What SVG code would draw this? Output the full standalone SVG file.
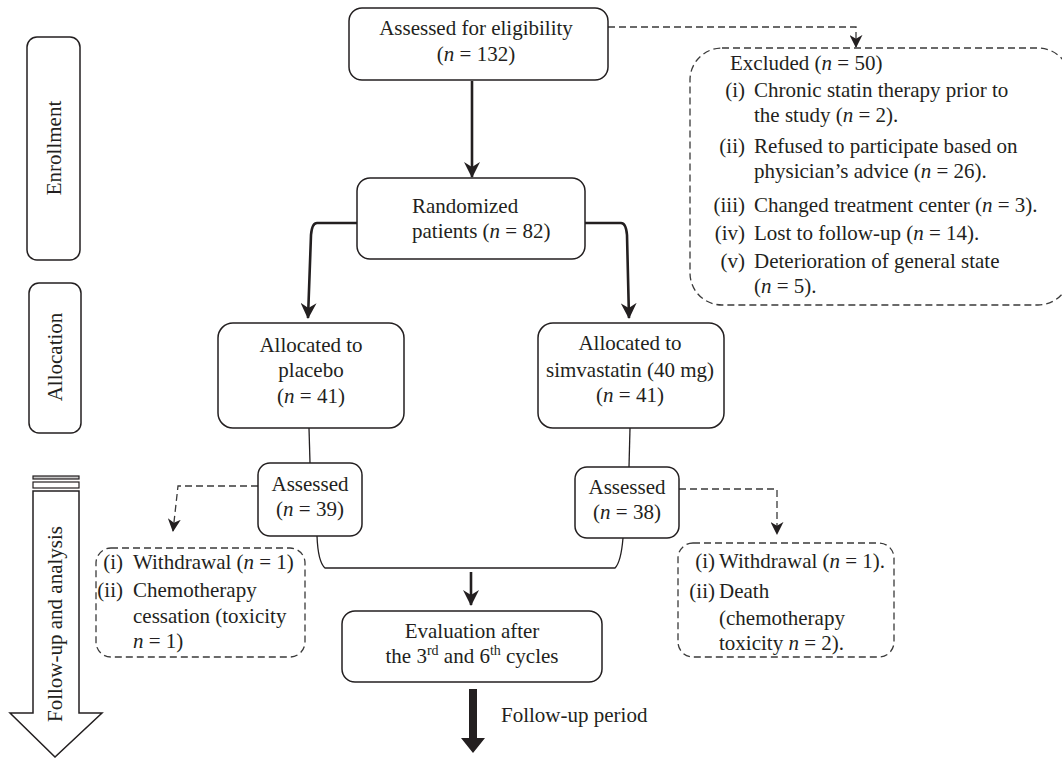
<svg xmlns="http://www.w3.org/2000/svg" width="1062" height="758" viewBox="0 0 1062 758">
<defs>
<marker id="ah" viewBox="0 0 16 16" refX="15" refY="8" markerWidth="16" markerHeight="16" markerUnits="userSpaceOnUse" orient="auto">
<path d="M0,0 L16,8 L0,16 L5,8 z" fill="#231f20"/>
</marker>
<marker id="ahs" viewBox="0 0 14 14" refX="13" refY="7" markerWidth="13" markerHeight="13" markerUnits="userSpaceOnUse" orient="auto">
<path d="M0,0 L14,7 L0,14 L4,7 z" fill="#231f20"/>
</marker>
</defs>
<style>
text{font-family:"Liberation Serif","Times New Roman",serif;font-size:21px;fill:#231f20}
.c{text-anchor:middle}
.e{text-anchor:end}
.i{font-style:italic}
.box{fill:#fff;stroke:#231f20;stroke-width:1.5}
.dbox{fill:none;stroke:#3a3a3a;stroke-width:1.3;stroke-dasharray:7 4}
.thick{fill:none;stroke:#231f20;stroke-width:2.6}
.thin{fill:none;stroke:#231f20;stroke-width:1.3}
.dash{fill:none;stroke:#3a3a3a;stroke-width:1.3;stroke-dasharray:7 4}
.side{fill:#fff;stroke:#231f20;stroke-width:1.5}
</style>
<rect width="1062" height="758" fill="#fff"/>

<g id="stage-enrollment">
<rect class="side" x="27" y="37" width="53" height="223" rx="10"/>
<text class="c" transform="translate(61,148) rotate(-90)">Enrollment</text>
</g>
<g id="stage-allocation">
<rect class="side" x="29" y="283" width="52" height="150" rx="10"/>
<text class="c" transform="translate(62,357) rotate(-90)">Allocation</text>
</g>
<g id="stage-followup">
<rect x="33" y="476" width="46" height="3" fill="#c8c8c8" stroke="#231f20" stroke-width="1.2"/>
<rect x="33" y="482" width="46" height="6" fill="#fff" stroke="#231f20" stroke-width="1.2"/>
<polygon points="33,491 79,491 79,713 102,713 55,757 10,713 33,713" fill="#fff" stroke="#231f20" stroke-width="1.5"/>
<text class="c" transform="translate(62,624) rotate(-90)">Follow-up and analysis</text>
</g>

<g id="connectors">
<line class="thick" x1="472" y1="81" x2="472" y2="177" marker-end="url(#ah)"/>
<path class="thick" d="M357,223 L317,223 Q312,223 311,235 L308,318" marker-end="url(#ah)"/>
<path class="thick" d="M585,223 L621,223 Q626,223 627,235 L629,318" marker-end="url(#ah)"/>
<line class="thin" x1="309" y1="428" x2="310" y2="463"/>
<line class="thin" x1="630" y1="428" x2="629" y2="467"/>
<path class="thin" d="M317,536 Q318,562 325,568 L615,568 Q621,562 623,538"/>
<line class="thick" x1="471" y1="572" x2="471" y2="605" marker-end="url(#ah)"/>
<polygon points="469,689 477,689 477,738 485,738 473,753 461,738 469,738" fill="#231f20"/>
<path class="dash" d="M608,27 L856,27 L856,47" marker-end="url(#ahs)"/>
<path class="dash" d="M258,486 L178,486 L173,531" marker-end="url(#ahs)"/>
<path class="dash" d="M679,489 L777,489 L777,534" marker-end="url(#ahs)"/>
</g>

<g id="assessed-eligibility">
<rect class="box" x="349" y="8" width="259" height="72" rx="13"/>
<text class="c" x="476" y="35">Assessed for eligibility</text>
<text class="c" x="476" y="61">(<tspan class="i">n</tspan> = 132)</text>
</g>

<g id="excluded">
<rect class="dbox" x="690" y="48" width="380" height="257" rx="32"/>
<text x="730" y="70">Excluded (<tspan class="i">n</tspan> = 50)</text>
<text class="e" x="745" y="97">(i)</text>
<text x="754" y="97">Chronic statin therapy prior to</text>
<text x="754" y="122">the study (<tspan class="i">n</tspan> = 2).</text>
<text class="e" x="745" y="153">(ii)</text>
<text x="754" y="153">Refused to participate based on</text>
<text x="754" y="178">physician’s advice (<tspan class="i">n</tspan> = 26).</text>
<text class="e" x="745" y="212">(iii)</text>
<text x="754" y="212">Changed treatment center (<tspan class="i">n</tspan> = 3).</text>
<text class="e" x="745" y="240">(iv)</text>
<text x="754" y="240">Lost to follow-up (<tspan class="i">n</tspan> = 14).</text>
<text class="e" x="745" y="268">(v)</text>
<text x="754" y="268">Deterioration of general state</text>
<text x="754" y="293">(<tspan class="i">n</tspan> = 5).</text>
</g>

<g id="randomized">
<rect class="box" x="357" y="178" width="228" height="81" rx="13"/>
<text x="412" y="213">Randomized</text>
<text x="412" y="238">patients (<tspan class="i">n</tspan> = 82)</text>
</g>

<g id="placebo">
<rect class="box" x="218" y="323" width="186" height="105" rx="15"/>
<text class="c" x="311" y="352">Allocated to</text>
<text class="c" x="311" y="377">placebo</text>
<text class="c" x="311" y="403">(<tspan class="i">n</tspan> = 41)</text>
</g>

<g id="simvastatin">
<rect class="box" x="538" y="323" width="186" height="105" rx="15"/>
<text class="c" x="630" y="350">Allocated to</text>
<text class="c" x="630" y="377">simvastatin (40 mg)</text>
<text class="c" x="630" y="402">(<tspan class="i">n</tspan> = 41)</text>
</g>

<g id="assessed-39">
<rect class="box" x="258" y="463" width="104" height="73" rx="12"/>
<text class="c" x="310" y="491">Assessed</text>
<text class="c" x="310" y="516">(<tspan class="i">n</tspan> = 39)</text>
</g>

<g id="assessed-38">
<rect class="box" x="575" y="467" width="104" height="71" rx="12"/>
<text class="c" x="627" y="494">Assessed</text>
<text class="c" x="627" y="519">(<tspan class="i">n</tspan> = 38)</text>
</g>

<g id="placebo-losses">
<rect class="dbox" x="96" y="548" width="209" height="109" rx="15"/>
<text class="e" x="123" y="569">(i)</text>
<text x="133" y="569">Withdrawal (<tspan class="i">n</tspan> = 1)</text>
<text class="e" x="123" y="597">(ii)</text>
<text x="133" y="597">Chemotherapy</text>
<text x="133" y="623">cessation (toxicity</text>
<text x="133" y="648"><tspan class="i">n</tspan> = 1)</text>
</g>

<g id="simvastatin-losses">
<rect class="dbox" x="678" y="543" width="216" height="114" rx="15"/>
<text class="e" x="715" y="568">(i)</text>
<text x="719" y="568">Withdrawal (<tspan class="i">n</tspan> = 1).</text>
<text class="e" x="715" y="598">(ii)</text>
<text x="719" y="598">Death</text>
<text x="719" y="625">(chemotherapy</text>
<text x="719" y="650">toxicity <tspan class="i">n</tspan> = 2).</text>
</g>

<g id="evaluation">
<rect class="box" x="342" y="611" width="260" height="71" rx="13"/>
<text class="c" x="472" y="638">Evaluation after</text>
<text class="c" x="472" y="663">the 3<tspan font-size="14" dy="-8">rd</tspan><tspan dy="8"> and 6</tspan><tspan font-size="14" dy="-8">th</tspan><tspan dy="8"> cycles</tspan></text>
</g>

<g id="follow-up-period">
<text x="501" y="722">Follow-up period</text>
</g>
</svg>
